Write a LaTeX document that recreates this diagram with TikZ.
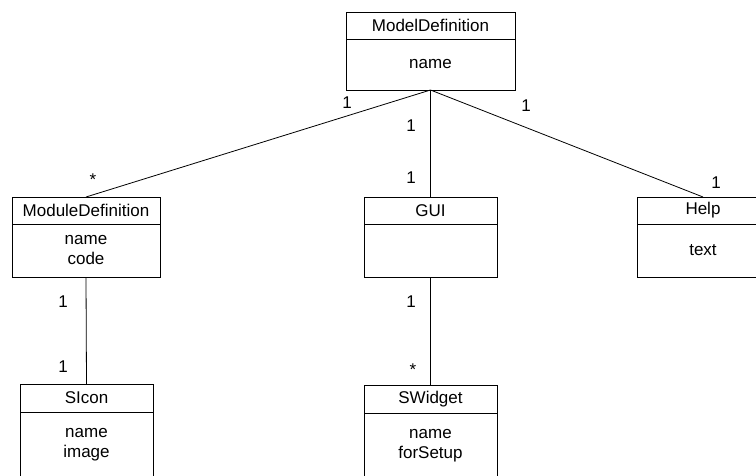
\documentclass[tikz,border=0pt]{standalone}
\usepackage{fontspec}
\setmainfont{Liberation Sans}
\usetikzlibrary{positioning}
\begin{document}
\begin{tikzpicture}[x=1pt,y=1pt]
		\tikzstyle{every node}+=[inner sep=0pt, outer sep=0pt, font=\fontsize{17}{20}\selectfont]
		\tikzstyle{classhead}=[draw=black, line width=0.8pt, minimum height=27pt, anchor=north]
		\tikzstyle{classattr}=[draw=black, line width=0.8pt, align=center]
		\tikzstyle{assoc}=[black, line width=0.8pt]
		\useasboundingbox (0,0) rectangle (756,-475);
		% classes
		\node [classhead, minimum width=169pt] (model) at (430.5,-12) {ModelDefinition};
		\node [classattr, minimum width=169pt, minimum height=51pt, below=0pt of model] (modelattr) {name};
		\node [classhead, minimum width=148pt] (module) at (86,-197) {ModuleDefinition};
		\node [classattr, minimum width=148pt, minimum height=53pt, below=0pt of module] (moduleattr) {name\\code};
		\node [classhead, minimum width=133pt] (gui) at (430.5,-197) {GUI};
		\node [classattr, minimum width=133pt, minimum height=53pt, below=0pt of gui] (guiattr) {};
		\node [classhead, minimum width=132pt] (help) at (703,-197) {Help};
		\node [classattr, minimum width=132pt, minimum height=53pt, below=0pt of help] (helpattr) {text};
		\node [classhead, minimum width=133pt, minimum height=28pt] (sicon) at (86.5,-384) {SIcon};
		\node [classattr, minimum width=133pt, minimum height=66pt, below=0pt of sicon] (siconattr) {name\\image};
		\node [classhead, minimum width=133pt, minimum height=28pt] (swidget) at (430.5,-385) {SWidget};
		\node [classattr, minimum width=133pt, minimum height=66pt, below=0pt of swidget] (swidgetattr) {name\\forSetup};
		% associations
		\draw [assoc] (modelattr.south) -- (module.north);
		\draw [assoc] (modelattr.south) -- (gui.north);
		\draw [assoc] (modelattr.south) -- (help.north);
		\draw [assoc] (moduleattr.south) -- (sicon.north);
		\draw [assoc] (guiattr.south) -- (swidget.north);
		% multiplicities
		\node (mult1) at (347,-103) {1};
		\node (mult2) at (93,-180) {*};
		\node (mult3) at (411,-126) {1};
		\node (mult4) at (411,-178) {1};
		\node (mult5) at (526,-106) {1};
		\node (mult6) at (716,-183) {1};
		\node (mult7) at (63,-302) {1};
		\node (mult8) at (63,-367) {1};
		\node (mult9) at (411,-302) {1};
		\node (mult10) at (413,-370) {*};
	\end{tikzpicture}
\end{document}
